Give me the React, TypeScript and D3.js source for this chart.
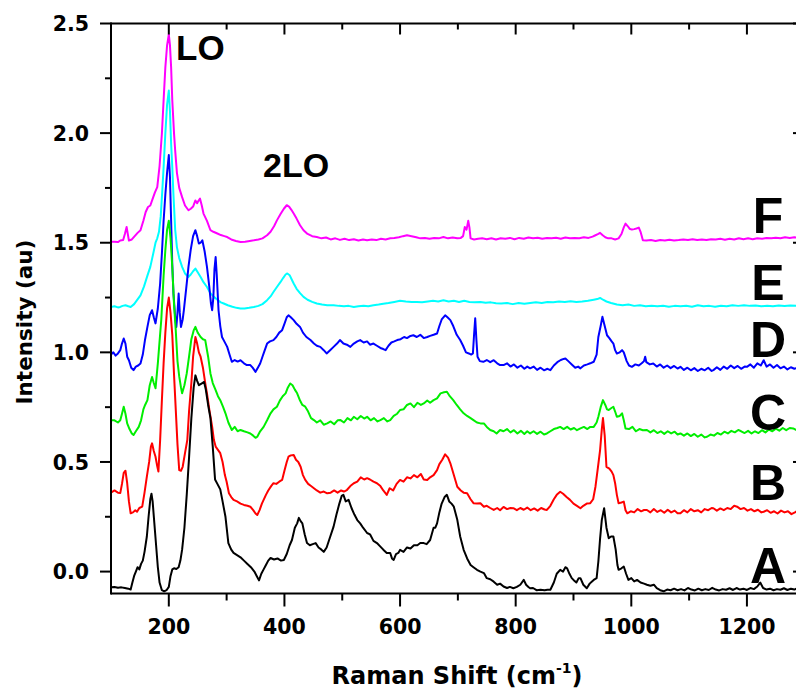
import React from "react";
import * as d3 from "d3";

type Pt = [number, number];

const seriesA: Pt[] = [[100,-0.072],[106,-0.07],[112,-0.074],[118,-0.072],[124,-0.075],[130,-0.078],[134,-0.082],[137,-0.05],[140,-0.02],[143,0.0],[146,0.02],[149,0.01],[152,0.035],[155,0.05],[158,0.09],[162,0.16],[165,0.25],[168,0.33],[170,0.355],[172,0.32],[175,0.22],[178,0.12],[181,0.02],[184,-0.05],[188,-0.085],[192,-0.09],[196,-0.085],[200,-0.07],[203,-0.02],[206,0.01],[209,0.015],[213,0.012],[217,0.02],[220,0.05],[223,0.1],[227,0.2],[231,0.35],[235,0.52],[239,0.7],[243,0.84],[246,0.895],[249,0.87],[252,0.85],[255,0.855],[258,0.86],[261,0.865],[264,0.83],[268,0.76],[272,0.7],[276,0.57],[280,0.42],[284,0.4],[289,0.375],[293,0.32],[298,0.25],[303,0.13],[308,0.1],[312,0.085],[318,0.075],[324,0.065],[330,0.05],[336,0.035],[342,0.02],[348,0.0],[352,-0.02],[356,-0.04],[360,-0.01],[364,0.01],[368,0.03],[372,0.05],[376,0.062],[382,0.055],[388,0.06],[394,0.05],[399,0.053],[404,0.08],[409,0.12],[413,0.144],[418,0.2],[422,0.22],[425,0.245],[428,0.23],[431,0.22],[435,0.17],[439,0.13],[444,0.12],[449,0.125],[454,0.13],[459,0.11],[464,0.1],[468,0.09],[473,0.11],[478,0.15],[485,0.205],[490,0.26],[495,0.31],[499,0.345],[502,0.35],[506,0.32],[511,0.327],[516,0.29],[521,0.26],[526,0.235],[531,0.22],[536,0.2],[543,0.176],[548,0.17],[554,0.14],[560,0.13],[566,0.114],[571,0.1],[577,0.085],[583,0.085],[586,0.06],[589,0.053],[593,0.08],[597,0.085],[600,0.099],[606,0.09],[612,0.11],[618,0.105],[624,0.12],[630,0.12],[635,0.13],[641,0.13],[646,0.125],[652,0.144],[658,0.2],[661,0.2],[664,0.22],[668,0.27],[672,0.31],[677,0.34],[681,0.35],[685,0.32],[689,0.31],[693,0.296],[699,0.236],[704,0.16],[710,0.099],[716,0.06],[722,0.03],[727,0.02],[733,0.008],[739,0.0],[745,-0.007],[750,-0.03],[756,-0.035],[762,-0.046],[768,-0.06],[773,-0.055],[779,-0.068],[785,-0.075],[790,-0.07],[796,-0.076],[802,-0.07],[808,-0.06],[814,-0.038],[818,-0.06],[822,-0.07],[825,-0.076],[830,-0.075],[836,-0.085],[843,-0.083],[850,-0.085],[855,-0.083],[860,-0.083],[866,-0.05],[871,-0.01],[877,0.008],[882,0.0],[886,0.02],[889,0.015],[893,-0.01],[897,-0.03],[900,-0.038],[905,-0.05],[909,-0.03],[912,-0.03],[917,-0.06],[923,-0.076],[928,-0.055],[932,-0.045],[935,-0.038],[940,-0.03],[943,0.046],[946,0.15],[949,0.236],[953,0.289],[957,0.2],[961,0.152],[965,0.16],[969,0.16],[973,0.1],[976,0.03],[978,0.008],[983,0.015],[987,0.023],[991,-0.01],[995,-0.038],[1000,-0.03],[1005,-0.045],[1010,-0.038],[1016,-0.05],[1022,-0.055],[1027,-0.06],[1033,-0.065],[1039,-0.06],[1044,-0.076],[1050,-0.085],[1056,-0.09],[1062,-0.082],[1068,-0.085],[1074,-0.078],[1080,-0.085],[1086,-0.08],[1092,-0.086],[1098,-0.075],[1104,-0.082],[1110,-0.086],[1116,-0.078],[1122,-0.085],[1128,-0.08],[1134,-0.084],[1140,-0.074],[1146,-0.082],[1152,-0.086],[1158,-0.08],[1164,-0.083],[1170,-0.076],[1176,-0.084],[1182,-0.075],[1188,-0.082],[1194,-0.078],[1200,-0.084],[1206,-0.075],[1212,-0.08],[1218,-0.068],[1223,-0.05],[1228,-0.075],[1234,-0.082],[1240,-0.078],[1246,-0.085],[1252,-0.08],[1258,-0.083],[1264,-0.076],[1270,-0.084],[1276,-0.078],[1282,-0.082],[1288,-0.075],[1294,-0.08]];

const seriesB: Pt[] = [[100,0.36],[106,0.37],[112,0.36],[116,0.358],[119,0.4],[122,0.45],[125,0.46],[128,0.403],[131,0.32],[134,0.266],[138,0.27],[142,0.28],[145,0.273],[149,0.29],[154,0.296],[158,0.36],[162,0.433],[166,0.5],[169,0.57],[171,0.585],[174,0.55],[177,0.524],[180,0.48],[182,0.456],[185,0.6],[188,0.78],[191,0.95],[194,1.09],[197,1.2],[200,1.25],[203,1.18],[206,1.08],[209,0.9],[212,0.74],[215,0.58],[218,0.463],[221,0.46],[224,0.478],[228,0.54],[232,0.6],[235,0.73],[239,0.86],[242,0.98],[246,1.07],[249,1.04],[252,1.0],[255,0.98],[259,0.93],[263,0.86],[266,0.813],[270,0.74],[275,0.66],[278,0.6],[281,0.57],[285,0.555],[289,0.54],[293,0.5],[297,0.44],[300,0.41],[304,0.357],[308,0.34],[312,0.327],[318,0.32],[324,0.31],[330,0.304],[336,0.3],[341,0.296],[346,0.28],[350,0.265],[353,0.258],[357,0.28],[361,0.31],[364,0.327],[368,0.35],[372,0.37],[377,0.39],[381,0.403],[386,0.4],[391,0.41],[396,0.418],[400,0.46],[404,0.5],[407,0.524],[411,0.53],[416,0.532],[420,0.51],[424,0.5],[428,0.478],[432,0.44],[436,0.418],[441,0.4],[446,0.39],[451,0.38],[456,0.37],[462,0.36],[468,0.365],[474,0.357],[480,0.36],[486,0.37],[492,0.36],[498,0.37],[503,0.365],[508,0.372],[514,0.39],[520,0.403],[526,0.41],[532,0.43],[538,0.42],[543,0.426],[548,0.42],[554,0.41],[560,0.403],[566,0.39],[571,0.37],[577,0.35],[582,0.38],[588,0.37],[594,0.4],[600,0.418],[606,0.41],[612,0.43],[618,0.425],[624,0.44],[630,0.43],[636,0.445],[641,0.42],[647,0.418],[652,0.43],[658,0.44],[664,0.463],[668,0.49],[673,0.51],[678,0.535],[683,0.52],[687,0.494],[692,0.45],[699,0.387],[705,0.37],[710,0.36],[716,0.357],[722,0.33],[727,0.312],[733,0.31],[739,0.312],[745,0.296],[750,0.3],[756,0.29],[762,0.281],[768,0.29],[773,0.28],[779,0.295],[785,0.285],[791,0.29],[796,0.289],[802,0.28],[808,0.29],[814,0.282],[820,0.292],[826,0.28],[832,0.288],[838,0.278],[844,0.29],[850,0.283],[854,0.281],[860,0.3],[866,0.33],[871,0.35],[877,0.364],[882,0.355],[888,0.34],[894,0.327],[900,0.31],[906,0.3],[912,0.289],[917,0.3],[923,0.31],[929,0.312],[934,0.33],[938,0.387],[942,0.47],[946,0.554],[949,0.65],[951,0.7],[954,0.62],[957,0.478],[962,0.47],[966,0.456],[969,0.44],[972,0.403],[975,0.35],[978,0.312],[983,0.315],[987,0.319],[990,0.28],[993,0.266],[999,0.275],[1005,0.27],[1011,0.285],[1017,0.275],[1022,0.281],[1027,0.281],[1033,0.27],[1039,0.285],[1045,0.272],[1051,0.28],[1057,0.268],[1063,0.282],[1069,0.27],[1075,0.278],[1080,0.266],[1085,0.266],[1091,0.28],[1097,0.27],[1103,0.285],[1109,0.275],[1115,0.28],[1121,0.27],[1127,0.285],[1133,0.28],[1139,0.29],[1142,0.289],[1148,0.278],[1154,0.288],[1160,0.28],[1166,0.29],[1172,0.285],[1178,0.3],[1183,0.296],[1189,0.285],[1195,0.29],[1201,0.278],[1207,0.285],[1213,0.275],[1219,0.282],[1225,0.27],[1229,0.273],[1235,0.28],[1241,0.268],[1247,0.275],[1253,0.265],[1259,0.278],[1265,0.27],[1271,0.275],[1277,0.262],[1283,0.27],[1289,0.28],[1295,0.275]];

const seriesC: Pt[] = [[100,0.69],[106,0.69],[112,0.68],[116,0.69],[119,0.72],[122,0.752],[125,0.72],[128,0.676],[132,0.65],[136,0.63],[139,0.623],[143,0.64],[148,0.66],[152,0.69],[156,0.74],[159,0.76],[163,0.782],[167,0.85],[171,0.888],[174,0.86],[177,0.836],[181,0.95],[184,1.05],[187,1.15],[191,1.35],[194,1.466],[197,1.56],[200,1.6],[203,1.52],[206,1.39],[209,1.22],[212,1.1],[215,0.96],[218,0.89],[221,0.84],[223,0.813],[227,0.85],[231,0.904],[235,0.98],[239,1.06],[243,1.1],[246,1.116],[250,1.09],[255,1.07],[259,1.06],[263,1.056],[268,0.98],[272,0.904],[276,0.86],[281,0.828],[285,0.8],[289,0.782],[294,0.75],[298,0.722],[303,0.68],[309,0.646],[314,0.66],[319,0.64],[324,0.646],[330,0.64],[336,0.635],[341,0.63],[346,0.62],[350,0.61],[353,0.615],[358,0.64],[364,0.66],[370,0.69],[376,0.722],[381,0.74],[387,0.752],[392,0.78],[397,0.8],[402,0.813],[406,0.84],[410,0.858],[414,0.85],[418,0.83],[422,0.813],[427,0.78],[431,0.76],[436,0.752],[441,0.73],[446,0.7],[451,0.691],[456,0.68],[462,0.69],[468,0.67],[474,0.676],[480,0.685],[486,0.672],[492,0.69],[497,0.691],[503,0.68],[509,0.7],[515,0.69],[520,0.706],[526,0.695],[532,0.71],[538,0.698],[543,0.706],[549,0.69],[555,0.7],[561,0.685],[566,0.691],[572,0.7],[578,0.685],[583,0.691],[589,0.71],[595,0.72],[600,0.737],[606,0.74],[612,0.76],[618,0.767],[624,0.75],[630,0.77],[636,0.76],[641,0.767],[647,0.78],[652,0.77],[658,0.782],[664,0.79],[670,0.813],[676,0.818],[681,0.82],[686,0.8],[692,0.782],[698,0.76],[704,0.74],[710,0.722],[716,0.71],[722,0.7],[727,0.691],[733,0.68],[739,0.676],[745,0.676],[750,0.66],[756,0.646],[762,0.64],[767,0.63],[773,0.646],[779,0.64],[785,0.65],[791,0.635],[797,0.645],[803,0.63],[809,0.642],[815,0.628],[820,0.64],[825,0.63],[831,0.64],[837,0.628],[843,0.638],[849,0.625],[854,0.63],[860,0.64],[866,0.65],[872,0.655],[877,0.66],[883,0.65],[889,0.66],[895,0.648],[901,0.655],[906,0.645],[912,0.653],[918,0.66],[924,0.65],[929,0.66],[935,0.66],[940,0.68],[943,0.706],[947,0.75],[951,0.782],[955,0.76],[958,0.74],[961,0.737],[965,0.745],[969,0.752],[972,0.73],[975,0.706],[980,0.71],[984,0.722],[987,0.69],[990,0.653],[996,0.65],[1002,0.66],[1008,0.64],[1014,0.65],[1020,0.645],[1027,0.646],[1033,0.635],[1039,0.645],[1045,0.632],[1051,0.64],[1057,0.628],[1063,0.64],[1069,0.63],[1075,0.638],[1080,0.625],[1085,0.63],[1091,0.62],[1097,0.63],[1103,0.618],[1109,0.628],[1115,0.615],[1121,0.625],[1127,0.612],[1131,0.615],[1137,0.625],[1143,0.62],[1149,0.632],[1155,0.625],[1161,0.638],[1167,0.63],[1173,0.642],[1179,0.635],[1185,0.646],[1190,0.64],[1196,0.632],[1202,0.642],[1208,0.63],[1214,0.64],[1220,0.632],[1226,0.645],[1232,0.635],[1238,0.648],[1244,0.64],[1250,0.652],[1256,0.643],[1262,0.655],[1268,0.645],[1274,0.655],[1280,0.653],[1286,0.645],[1292,0.655]];

const seriesD: Pt[] = [[100,0.99],[104,1.0],[108,0.985],[112,0.995],[116,1.01],[119,1.04],[122,1.063],[125,1.04],[128,0.98],[131,0.964],[135,0.93],[139,0.919],[143,0.935],[147,0.94],[151,0.949],[155,0.99],[159,1.06],[163,1.116],[167,1.17],[171,1.192],[174,1.16],[177,1.132],[181,1.2],[185,1.314],[188,1.45],[191,1.6],[194,1.72],[197,1.82],[200,1.9],[202,1.8],[204,1.6],[206,1.4],[208,1.27],[211,1.16],[213,1.116],[215,1.18],[217,1.268],[219,1.18],[221,1.116],[224,1.15],[226,1.192],[230,1.29],[234,1.39],[238,1.47],[242,1.53],[246,1.557],[249,1.53],[252,1.496],[255,1.5],[258,1.511],[262,1.46],[266,1.39],[270,1.3],[273,1.22],[275,1.192],[277,1.25],[279,1.38],[281,1.435],[283,1.35],[286,1.192],[289,1.12],[292,1.07],[296,1.05],[301,1.025],[305,0.99],[309,0.957],[314,0.965],[319,0.958],[324,0.964],[330,0.95],[335,0.942],[341,0.942],[345,0.93],[350,0.911],[354,0.93],[358,0.949],[362,0.98],[366,1.01],[370,1.04],[375,1.05],[381,1.056],[386,1.07],[391,1.09],[396,1.101],[400,1.13],[404,1.16],[407,1.169],[411,1.16],[416,1.147],[421,1.13],[427,1.116],[432,1.09],[438,1.07],[445,1.056],[451,1.04],[456,1.03],[462,1.025],[468,1.01],[473,0.995],[479,1.01],[485,1.025],[491,1.04],[496,1.056],[502,1.04],[508,1.035],[514,1.025],[520,1.04],[526,1.05],[531,1.056],[537,1.045],[543,1.05],[548,1.035],[554,1.04],[560,1.03],[566,1.02],[571,1.015],[575,1.01],[580,1.03],[585,1.045],[590,1.05],[595,1.056],[601,1.06],[607,1.07],[612,1.065],[618,1.075],[623,1.078],[629,1.07],[635,1.08],[641,1.065],[647,1.07],[652,1.075],[658,1.08],[664,1.086],[668,1.12],[672,1.15],[678,1.169],[682,1.16],[687,1.147],[692,1.12],[698,1.08],[704,1.056],[709,1.03],[714,1.0],[719,0.995],[723,0.99],[726,0.995],[728,1.08],[730,1.155],[732,1.06],[734,0.98],[738,0.96],[744,0.957],[750,0.965],[756,0.955],[762,0.964],[768,0.95],[773,0.942],[779,0.942],[785,0.95],[791,0.935],[797,0.945],[803,0.93],[809,0.94],[815,0.925],[820,0.935],[825,0.927],[831,0.935],[837,0.92],[843,0.93],[849,0.918],[855,0.925],[860,0.919],[866,0.94],[872,0.955],[878,0.965],[883,0.97],[886,0.972],[891,0.96],[897,0.945],[903,0.93],[908,0.935],[912,0.927],[918,0.94],[924,0.945],[929,0.95],[935,0.957],[940,0.99],[943,1.07],[947,1.12],[950,1.162],[954,1.12],[958,1.078],[962,1.065],[966,1.05],[969,1.04],[972,1.01],[975,0.995],[980,1.0],[984,1.01],[987,1.0],[992,0.96],[996,0.94],[1001,0.934],[1007,0.945],[1013,0.94],[1018,0.95],[1022,0.96],[1024,0.98],[1026,0.955],[1032,0.945],[1038,0.949],[1044,0.935],[1050,0.945],[1056,0.93],[1062,0.94],[1068,0.928],[1074,0.938],[1080,0.926],[1085,0.934],[1091,0.92],[1097,0.93],[1103,0.918],[1109,0.928],[1115,0.915],[1121,0.925],[1127,0.918],[1133,0.93],[1139,0.915],[1142,0.919],[1148,0.932],[1154,0.92],[1160,0.935],[1166,0.925],[1172,0.94],[1178,0.928],[1184,0.938],[1190,0.925],[1196,0.935],[1200,0.934],[1206,0.945],[1212,0.93],[1218,0.95],[1224,0.94],[1229,0.964],[1234,0.935],[1240,0.945],[1246,0.93],[1252,0.942],[1258,0.927],[1264,0.935],[1270,0.922],[1276,0.932],[1282,0.925],[1288,0.93],[1294,0.92]];

const seriesE: Pt[] = [[100,1.207],[106,1.21],[112,1.205],[116,1.207],[120,1.212],[125,1.215],[130,1.21],[134,1.207],[140,1.22],[145,1.238],[151,1.26],[157,1.3],[163,1.35],[168,1.39],[173,1.45],[177,1.5],[180,1.52],[183,1.55],[186,1.62],[189,1.75],[191,1.845],[194,2.0],[197,2.13],[200,2.194],[202,2.1],[204,1.95],[206,1.845],[208,1.72],[211,1.56],[214,1.48],[218,1.43],[223,1.39],[228,1.36],[234,1.344],[238,1.355],[242,1.37],[246,1.382],[250,1.365],[255,1.344],[260,1.32],[266,1.298],[272,1.27],[278,1.253],[284,1.24],[290,1.228],[295,1.223],[302,1.215],[310,1.208],[317,1.203],[324,1.2],[331,1.2],[339,1.203],[347,1.207],[355,1.212],[362,1.22],[370,1.238],[376,1.255],[381,1.275],[387,1.298],[393,1.32],[398,1.34],[402,1.355],[405,1.36],[409,1.352],[413,1.33],[416,1.314],[421,1.29],[427,1.27],[433,1.253],[440,1.24],[448,1.23],[456,1.223],[465,1.218],[474,1.215],[485,1.215],[494,1.212],[503,1.21],[511,1.212],[520,1.207],[528,1.21],[537,1.213],[545,1.21],[554,1.215],[563,1.218],[571,1.222],[580,1.225],[590,1.23],[600,1.235],[610,1.232],[620,1.23],[629,1.23],[638,1.228],[648,1.232],[657,1.235],[666,1.232],[675,1.238],[684,1.232],[693,1.235],[702,1.23],[711,1.235],[720,1.23],[729,1.228],[739,1.23],[748,1.226],[757,1.228],[766,1.224],[775,1.223],[785,1.225],[795,1.22],[805,1.225],[815,1.222],[825,1.225],[835,1.228],[845,1.225],[855,1.23],[865,1.228],[875,1.232],[885,1.23],[895,1.233],[905,1.23],[915,1.232],[925,1.235],[935,1.24],[941,1.243],[946,1.248],[951,1.24],[957,1.232],[965,1.225],[975,1.218],[985,1.215],[995,1.218],[1005,1.212],[1015,1.215],[1025,1.21],[1035,1.212],[1045,1.21],[1055,1.213],[1065,1.208],[1075,1.212],[1085,1.21],[1095,1.213],[1105,1.208],[1115,1.215],[1125,1.21],[1135,1.212],[1145,1.208],[1155,1.213],[1165,1.21],[1175,1.215],[1185,1.212],[1195,1.215],[1205,1.212],[1215,1.214],[1225,1.21],[1235,1.213],[1245,1.21],[1255,1.214],[1265,1.211],[1275,1.214],[1285,1.212],[1295,1.214]];

const seriesF: Pt[] = [[100,1.505],[106,1.505],[112,1.503],[116,1.51],[121,1.512],[124,1.54],[127,1.572],[129,1.54],[131,1.51],[136,1.515],[141,1.53],[146,1.545],[151,1.557],[156,1.6],[160,1.64],[164,1.663],[168,1.67],[172,1.7],[176,1.73],[180,1.754],[184,1.85],[188,1.997],[191,2.15],[194,2.3],[197,2.4],[200,2.45],[202,2.4],[204,2.3],[206,2.15],[209,2.0],[211,1.921],[214,1.82],[218,1.75],[223,1.708],[228,1.67],[234,1.648],[238,1.655],[242,1.665],[246,1.693],[249,1.68],[251,1.69],[254,1.701],[257,1.67],[260,1.633],[266,1.6],[272,1.557],[277,1.55],[284,1.542],[290,1.535],[296,1.53],[301,1.526],[308,1.515],[316,1.508],[324,1.503],[332,1.505],[340,1.508],[347,1.511],[355,1.515],[362,1.52],[370,1.534],[376,1.55],[382,1.575],[387,1.602],[393,1.63],[399,1.655],[404,1.671],[408,1.665],[412,1.65],[416,1.633],[421,1.61],[427,1.58],[433,1.557],[440,1.54],[448,1.53],[456,1.526],[464,1.52],[472,1.524],[480,1.515],[488,1.52],[496,1.513],[504,1.518],[512,1.512],[520,1.516],[528,1.51],[536,1.515],[543,1.511],[551,1.515],[559,1.512],[567,1.518],[575,1.515],[583,1.52],[590,1.522],[598,1.525],[605,1.53],[612,1.534],[620,1.53],[628,1.525],[635,1.52],[643,1.522],[651,1.518],[659,1.522],[667,1.52],[675,1.526],[683,1.52],[691,1.524],[699,1.52],[705,1.522],[709,1.53],[712,1.572],[715,1.56],[718,1.6],[720,1.57],[722,1.52],[728,1.515],[735,1.518],[742,1.52],[750,1.516],[758,1.52],[766,1.515],[774,1.52],[782,1.518],[790,1.522],[798,1.516],[806,1.522],[814,1.518],[822,1.524],[830,1.52],[838,1.523],[846,1.518],[854,1.522],[862,1.52],[870,1.523],[878,1.518],[886,1.524],[894,1.52],[902,1.522],[910,1.52],[918,1.525],[926,1.522],[933,1.528],[938,1.534],[943,1.54],[946,1.545],[950,1.535],[955,1.525],[960,1.52],[966,1.52],[972,1.515],[978,1.52],[983,1.54],[987,1.57],[990,1.587],[994,1.575],[997,1.564],[1001,1.56],[1005,1.562],[1009,1.565],[1013,1.569],[1016,1.55],[1020,1.511],[1026,1.51],[1034,1.512],[1042,1.508],[1050,1.512],[1058,1.51],[1066,1.514],[1074,1.51],[1082,1.512],[1090,1.515],[1098,1.512],[1106,1.516],[1114,1.512],[1122,1.515],[1130,1.512],[1138,1.516],[1146,1.515],[1154,1.518],[1162,1.514],[1170,1.518],[1178,1.515],[1186,1.52],[1194,1.516],[1202,1.52],[1210,1.516],[1218,1.52],[1226,1.518],[1234,1.522],[1242,1.52],[1250,1.523],[1258,1.52],[1266,1.525],[1274,1.522],[1282,1.525],[1290,1.522],[1296,1.524]];

const seriesNames = ["F", "E", "D", "C", "B", "A"];
const seriesColors = ["#ff00ff", "#00ffff", "#0000ff", "#00ee00", "#ff0000", "#000000"];
const seriesData = [seriesF, seriesE, seriesD, seriesC, seriesB, seriesA];
const labelY = [1.545, 1.239, 0.979, 0.646, 0.327, -0.052];

const xMajor = [200, 400, 600, 800, 1000, 1200];
const xMinor = [300, 500, 700, 900, 1100];
const yMajor = [0.0, 0.5, 1.0, 1.5, 2.0, 2.5];
const yMinor = [0.25, 0.75, 1.25, 1.75, 2.25];

const W = 796;
const H = 692;

export default function App() {
  const x = d3.scaleLinear().domain([100, 1297]).range([111, 803]);
  const y = d3.scaleLinear().domain([-0.1, 2.5]).range([593.5, 23.5]);
  const line = d3
    .line<Pt>()
    .x((d) => x(d[0]))
    .y((d) => y(d[1]));

  const top = y(2.5);
  const bottom = y(-0.1);
  const left = x(100);
  const right = x(1297);
  const tickFont = "'DejaVu Sans', sans-serif";
  const labelFont = "'Liberation Sans', Arial, sans-serif";

  return (
    <svg
      width={W}
      height={H}
      style={{ position: "absolute", left: 0, top: 0, background: "#fff" }}
    >
      <defs>
        <clipPath id="plotClip">
          <rect x={left} y={top} width={right - left} height={bottom - top} />
        </clipPath>
      </defs>
      <rect x={0} y={0} width={W} height={H} fill="#fff" />

      <g clipPath="url(#plotClip)">
        {seriesData.map((s, i) => (
          <path
            key={seriesNames[i]}
            d={line(s) || ""}
            fill="none"
            stroke={seriesColors[i]}
            strokeWidth={2}
            strokeLinejoin="round"
          />
        ))}
      </g>

      {/* frame */}
      <g stroke="#000" strokeWidth={2} fill="none">
        <line x1={left} y1={top} x2={right} y2={top} />
        <line x1={left} y1={bottom} x2={right} y2={bottom} />
        <line x1={left} y1={top - 1} x2={left} y2={bottom + 1} />
        <line x1={right} y1={top} x2={right} y2={bottom} />
        {xMajor.map((v) => (
          <g key={"xM" + v}>
            <line x1={x(v)} y1={bottom} x2={x(v)} y2={bottom + 13} />
            <line x1={x(v)} y1={top} x2={x(v)} y2={top + 11} />
          </g>
        ))}
        {xMinor.map((v) => (
          <g key={"xm" + v}>
            <line x1={x(v)} y1={bottom} x2={x(v)} y2={bottom + 7} />
            <line x1={x(v)} y1={top} x2={x(v)} y2={top + 6} />
          </g>
        ))}
        {yMajor.map((v) => (
          <g key={"yM" + v}>
            <line x1={left} y1={y(v)} x2={left - 11} y2={y(v)} />
            <line x1={right} y1={y(v)} x2={right - 10} y2={y(v)} />
          </g>
        ))}
        {yMinor.map((v) => (
          <g key={"ym" + v}>
            <line x1={left} y1={y(v)} x2={left - 6} y2={y(v)} />
            <line x1={right} y1={y(v)} x2={right - 5} y2={y(v)} />
          </g>
        ))}
      </g>

      {/* tick labels */}
      <g fontFamily={tickFont} fontWeight="bold" fontSize={20.5} fill="#000">
        {xMajor.map((v) => (
          <text key={"xl" + v} x={x(v)} y={634} textAnchor="middle">
            {String(v)}
          </text>
        ))}
        {yMajor.map((v) => (
          <text key={"yl" + v} x={89} y={y(v) + 7.6} textAnchor="end">
            {v.toFixed(1)}
          </text>
        ))}
      </g>

      {/* axis titles */}
      <text
        x={457}
        y={684}
        textAnchor="middle"
        fontFamily={tickFont}
        fontWeight="bold"
        fontSize={24}
      >
        Raman Shift (cm
        <tspan fontSize={14} dy={-11}>-1</tspan>
        <tspan dy={11}>)</tspan>
      </text>
      <text
        transform={`translate(31.5, 322) rotate(-90)`}
        textAnchor="middle"
        fontFamily={tickFont}
        fontWeight="bold"
        fontSize={21.5}
      >
        Intensity (au)
      </text>

      {/* peak annotations */}
      <g fontFamily={labelFont} fontWeight="bold" fill="#000">
        <text x={176} y={60} fontSize={35}>LO</text>
        <text x={263} y={177} fontSize={34}>2LO</text>
        {seriesNames.map((n, i) => (
          <text key={"lab" + n} x={768} y={y(labelY[i])} fontSize={50} textAnchor="middle">
            {n}
          </text>
        ))}
      </g>
    </svg>
  );
}
